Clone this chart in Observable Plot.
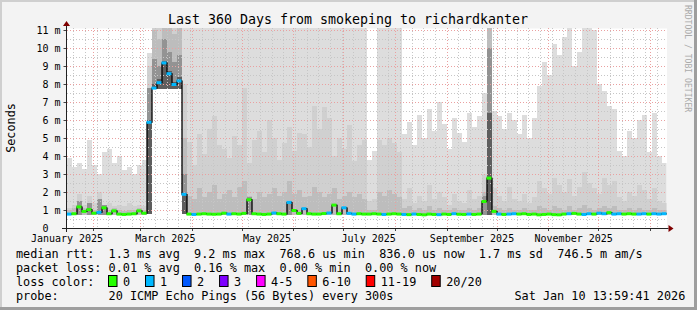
<!DOCTYPE html>
<html><head><meta charset="utf-8">
<script src="https://cdn.jsdelivr.net/npm/d3@7"></script>
<script src="https://cdn.jsdelivr.net/npm/@observablehq/plot@0.6"></script>
<style>
html,body{margin:0;padding:0;background:#f3f3f3;}
svg{display:block;}
</style></head><body><div id="chart"></div>
<script>
// ---- data (values in milliseconds), one sample every 3 days from 2025-01-16 ----
const rangeStart = "2025-01-16", rangeDays = 360, stepDays = 3;
const minMs = [
0.72,0.72,0.72,0.72,0.72,0.72,0.72,0.72,0.72,0.72,
0.72,0.72,0.72,0.72,0.72,0.72,0.78,7.70,7.72,7.70,
7.72,7.70,7.74,0.78,0.72,0.72,0.72,0.72,0.72,0.72,
0.72,0.72,0.72,0.72,0.72,0.72,0.72,0.72,0.72,0.72,
0.72,0.72,0.72,0.72,0.72,0.72,0.72,0.72,0.72,0.72,
0.72,0.72,0.72,0.72,0.72,0.72,0.72,0.72,0.72,0.72,
0.72,0.72,0.72,0.72,0.72,0.72,0.72,0.72,0.72,0.72,
0.72,0.72,0.72,0.72,0.72,0.72,0.72,0.72,0.72,0.72,
0.72,0.72,0.72,0.72,0.72,0.72,0.72,0.72,0.72,0.72,
0.72,0.72,0.72,0.72,0.72,0.72,0.72,0.72,0.72,0.72,
0.72,0.72,0.72,0.72,0.72,0.72,0.72,0.72,0.72,0.72,
0.72,0.72,0.72,0.72,0.72,0.72,0.72,0.72,0.72,0.72];
const maxMs = [
3.9,3.4,3.6,3.3,4.9,3.5,3.0,4.2,4.4,3.6,
4.0,3.2,3.4,3.0,3.5,3.8,9.7,12,12,12,
12,12,12,12,12,12,12,12,12,12,
12,12,12,12,12,12,12,12,12,12,
12,12,12,12,12,12,12,12,12,12,
12,12,12,12,12,12,12,12,12,12,
3.8,4.3,12,12,12,12,12,5.2,5.9,4.6,
6.3,5.0,6.6,5.4,7.0,5.8,4.4,6.1,5.3,4.8,
6.4,5.6,6.2,7.5,12,6.5,6.2,5.5,6.4,6.0,
5.2,6.3,5.0,6.1,7.9,9.2,8.5,10.2,9.6,10.6,
12,9.0,9.8,12,12,11.0,8.0,7.6,6.8,6.6,
4.3,4.0,5.4,5.0,6.0,6.3,4.2,6.4,4.0,3.6];
const midMs = [
1.1,1.3,1.9,1.3,1.8,1.4,2.0,1.3,1.4,1.2,
1.3,1.2,1.4,1.2,1.3,1.2,9.0,12,12,12,
12,12,12,8.0,4.8,3.5,5.2,4.1,5.5,6.2,
4.6,4.4,3.9,5.1,4.6,7.8,3.6,4.9,5.4,4.2,
6.0,5.0,3.8,4.7,5.6,4.3,5.3,5.2,4.5,6.8,
5.5,6.7,6.1,4.0,5.0,4.4,5.7,3.7,4.6,4.9,
1.5,1.6,4.9,4.6,5.0,4.7,4.2,1.6,2.2,1.4,
1.8,1.5,2.4,1.6,2.0,1.7,1.3,1.9,1.5,1.4,
2.1,1.6,1.8,3.0,12,2.2,1.8,1.5,2.3,1.6,
1.5,1.9,1.4,1.7,2.6,2.2,1.9,2.8,2.4,2.0,
2.7,1.8,2.3,3.1,2.5,2.2,1.9,2.8,2.4,2.6,
1.7,1.5,2.0,1.8,2.4,2.1,1.6,2.2,1.5,1.4];
const darkMs = [
1.0,1.1,1.4,1.1,1.3,1.0,1.3,1.2,1.0,1.1,
1.0,0.95,1.0,1.0,1.1,1.0,7.8,11.0,10.5,12,
11.5,10.8,11.2,5.0,1.8,1.6,2.2,1.7,2.0,2.4,
1.6,1.9,2.1,1.7,2.3,2.6,1.8,1.6,2.0,1.7,
1.9,2.2,1.8,2.0,2.6,1.9,2.1,1.7,1.8,2.3,
2.0,1.7,1.9,2.2,1.6,1.8,2.0,1.7,1.9,1.6,
1.0,1.0,2.0,1.8,2.1,1.9,1.7,1.1,1.2,1.0,
1.1,1.0,1.2,1.0,1.1,1.0,1.0,1.1,1.0,1.0,
1.1,1.0,1.1,2.0,12,1.2,1.1,1.0,1.1,1.0,
1.0,1.1,1.0,1.0,1.2,1.1,1.0,1.2,1.1,1.0,
1.2,1.0,1.1,1.3,1.1,1.0,1.1,1.2,1.1,1.2,
1.0,1.0,1.1,1.0,1.1,1.0,1.0,1.1,1.0,1.0];
const deepMs = [
null,null,1.5,null,1.4,null,1.6,1.3,null,null,
null,null,null,null,null,null,7.8,9.4,9.0,10.5,
9.8,9.2,9.6,3.0,null,null,null,null,null,null,
null,null,null,null,null,null,1.7,null,null,null,
null,null,null,null,1.5,null,null,null,null,null,
null,null,null,null,null,null,null,null,null,null,
null,null,null,null,null,null,null,null,null,null,
null,null,null,null,null,null,null,null,null,null,
null,null,null,1.8,10.0,null,null,null,null,null,
null,null,null,null,null,null,null,null,null,null,
null,null,null,null,null,null,null,null,null,null,
null,null,null,null,null,null,null,null,null,null];
const coreMs = [
null,null,null,null,null,null,null,null,null,null,
null,null,null,null,null,null,6.0,8.0,8.3,9.3,
8.7,8.1,8.4,1.9,null,null,null,null,null,null,
null,null,null,null,null,null,null,null,null,null,
null,null,null,null,null,null,null,null,null,null,
null,null,null,null,null,null,null,null,null,null,
null,null,null,null,null,null,null,null,null,null,
null,null,null,null,null,null,null,null,null,null,
null,null,null,null,6.4,null,null,null,null,null,
null,null,null,null,null,null,null,null,null,null,
null,null,null,null,null,null,null,null,null,null,
null,null,null,null,null,null,null,null,null,null];
const medianMs = [
0.80,0.82,1.20,0.95,1.05,0.85,0.90,1.15,0.82,0.98,
0.80,0.78,0.80,0.82,0.98,0.85,5.9,7.8,8.1,9.2,
8.6,8.0,8.2,1.9,0.80,0.78,0.80,0.82,0.80,0.79,
0.80,0.85,0.80,0.82,0.80,0.84,1.6,0.82,0.80,0.78,
0.80,0.86,0.82,0.80,1.45,1.0,0.84,1.1,0.82,0.80,
0.80,0.83,0.86,1.3,0.82,1.15,0.84,0.80,0.82,0.80,
0.80,0.82,0.80,0.78,0.80,0.82,0.80,0.78,0.77,0.80,
0.78,0.76,0.80,0.78,0.77,0.80,0.78,0.82,0.79,0.78,
0.80,0.78,0.80,1.5,2.8,0.95,0.80,0.78,0.80,0.82,
0.80,0.82,0.78,0.80,0.76,0.78,0.80,0.77,0.76,0.80,
0.82,0.84,0.80,0.78,0.82,0.80,0.85,0.82,0.88,0.80,
0.82,0.80,0.82,0.80,0.80,0.82,0.80,0.82,0.80,0.82];
const lossIdx = [
1,0,0,0,0,0,1,0,0,0,
0,0,0,0,0,0,1,1,1,1,
1,1,1,1,0,1,0,0,0,0,
0,0,1,0,0,0,0,0,0,0,
0,1,0,0,1,0,0,1,0,0,
0,0,1,0,0,1,1,1,0,0,
0,0,0,1,0,0,0,1,0,1,
0,0,0,0,1,0,0,1,0,0,
1,0,0,0,0,0,1,0,1,1,
0,0,0,0,0,0,0,0,0,0,
1,0,0,1,1,0,1,1,0,1,
1,0,0,0,1,1,0,1,1,1];
const lossColors = ["#26ff00","#00b8ff","#0059ff","#7e00ff","#ff00ff","#ff5500","#ff0000","#a10000"];
const lossLabels = ["0","1","2","3","4-5","6-10","11-19","20/20"];
const monthLabelDates = ["2025-01-16","2025-03-16","2025-05-16","2025-07-16","2025-09-16","2025-11-16"];
const yTicks = [0,1,2,3,4,5,6,7,8,9,10,11];
const titleText = "Last 360 Days from smokeping to richardkanter";
const legendLines = [
  "median rtt:  1.3 ms avg  9.2 ms max  768.6 us min  836.0 us now  1.7 ms sd  746.5 m am/s",
  "packet loss: 0.01 % avg  0.16 % max  0.00 % min  0.00 % now",
  "loss color:",
  "probe:       20 ICMP Echo Pings (56 Bytes) every 300s"
];
const stampText = "Sat Jan 10 13:59:41 2026";

// ---- build ----
const start = new Date(rangeStart + "T00:00:00Z");
const end = d3.utcDay.offset(start, rangeDays);
const rows = medianMs.map((m, i) => ({
  t0: d3.utcDay.offset(start, i * stepDays),
  t1: d3.utcDay.offset(start, (i + 1) * stepDays),
  lo: minMs[i], max: maxMs[i], mid: midMs[i], dark: darkMs[i],
  deep: deepMs[i], core: coreMs[i], median: m, color: lossColors[lossIdx[i]]
}));
const stepPts = rows.map(r => ({t: r.t0, v: r.median})).concat([{t: end, v: medianMs[medianMs.length - 1]}]);
const levels = [["max", "#dddddd"], ["mid", "#d0d0d0"], ["dark", "#bdbdbd"], ["deep", "#939393"], ["core", "#5e5e5e"]];
const weekLines = d3.utcMonday.range(start, end);
const monthLines = d3.utcMonth.range(d3.utcDay.offset(start, 1), end);
const halfLines = d3.range(0.5, 11, 1);
const mLines = d3.range(1, 12, 1);
const FONT = "'DejaVu Sans Mono', monospace";
const gridGray = "#c6c6c6", gridRed = "#eaa0a0";

const chart = Plot.plot({
  width: 697, height: 310,
  marginLeft: 66.5, marginRight: 30.5, marginTop: 28, marginBottom: 82,
  style: {background: "transparent", fontFamily: FONT, fontSize: "10px", color: "#000", overflow: "visible"},
  x: {type: "utc", domain: [start, end]},
  y: {domain: [0, 200 / 18]},
  color: {type: "identity"},
  marks: [
    Plot.frame({fill: "#ffffff", stroke: null}),
    ...levels.map(([key, c]) => Plot.rect(rows, {x1: "t0", x2: "t1", y1: "lo", y2: key, fill: c, clip: true, shapeRendering: "crispEdges"})),
    Plot.ruleX(weekLines, {stroke: gridGray, strokeDasharray: "1,2", shapeRendering: "crispEdges"}),
    Plot.ruleY(halfLines, {stroke: gridGray, strokeDasharray: "1,2", shapeRendering: "crispEdges"}),
    Plot.ruleX(monthLines, {stroke: gridRed, strokeDasharray: "1,2", shapeRendering: "crispEdges"}),
    Plot.ruleY(mLines, {stroke: gridRed, strokeDasharray: "1,2", shapeRendering: "crispEdges"}),
    Plot.line(stepPts, {x: "t", y: "v", curve: "step-after", stroke: "#000", strokeWidth: 1.3, clip: true}),
    Plot.ruleY(rows, {x1: "t0", x2: "t1", y: "median", stroke: "color", strokeWidth: 3}),
    Plot.ruleX(monthLines, {y1: 0, y2: -3 / 18, stroke: "#444", shapeRendering: "crispEdges"}),
    Plot.axisY(yTicks, {tickSize: 3, tickPadding: 3.5, stroke: "#444", fontSize: 10, fontFamily: FONT,
      tickFormat: d => d === 0 ? "0\u00a0\u00a0" : d + " m"}),
    Plot.axisX(monthLabelDates.map(s => new Date(s + "T00:00:00Z")), {tickSize: 0, tickPadding: 6.5, fontSize: 10, fontFamily: FONT,
      tickFormat: d3.utcFormat("%B %Y")})
  ]
});
document.getElementById("chart").appendChild(chart);

// ---- decorations ----
const svg = d3.select(chart);
const X = chart.scale("x"), Y = chart.scale("y");
const bg = svg.insert("g", ":first-child");
bg.append("rect").attr("x", 0).attr("y", 0).attr("width", 697).attr("height", 310).attr("fill", "#f3f3f3");
bg.append("rect").attr("x", 0).attr("y", 0).attr("width", 697).attr("height", 2).attr("fill", "#cfcfcf");
bg.append("rect").attr("x", 0).attr("y", 0).attr("width", 2).attr("height", 310).attr("fill", "#cfcfcf");
bg.append("rect").attr("x", 0).attr("y", 307).attr("width", 697).attr("height", 3).attr("fill", "#9e9e9e");
bg.append("rect").attr("x", 694).attr("y", 0).attr("width", 3).attr("height", 310).attr("fill", "#9e9e9e");

const ax = svg.append("g");
const x0 = X.apply(start), y0 = Y.apply(0);
ax.append("line").attr("x1", x0 - 4.5).attr("x2", X.apply(end) + 2).attr("y1", y0 + 0.5).attr("y2", y0 + 0.5).attr("stroke", "#222");
ax.append("line").attr("x1", x0).attr("x2", x0).attr("y1", y0 + 4).attr("y2", 26).attr("stroke", "#222");
const xe = X.apply(end) + 2;
ax.append("path").attr("d", `M${xe},${y0 - 3}L${xe + 5},${y0 + 0.5}L${xe},${y0 + 4}Z`).attr("fill", "#7f0000");
ax.append("path").attr("d", `M${x0 - 3.5},26L${x0},21L${x0 + 3.5},26Z`).attr("fill", "#7f0000");

const tx = svg.append("g").attr("font-family", FONT).attr("fill", "#000").attr("text-anchor", "start");
tx.append("text").attr("x", 348).attr("y", 24).attr("text-anchor", "middle").attr("font-size", 13.3).text(titleText);
tx.append("text").attr("transform", "translate(15,128) rotate(-90)").attr("text-anchor", "middle").attr("font-size", 11.8).text("Seconds");
tx.append("text").attr("transform", "translate(684.5,5) rotate(90)").attr("text-anchor", "start").attr("font-size", 8.1).attr("fill", "#aaaaaa").text("RRDTOOL / TOBI OETIKER");

const LX = 16, CW = 7.12, LFS = 11.83;
const base = [258.3, 272.2, 286.1, 300];
legendLines.forEach((s, i) => {
  tx.append("text").attr("x", LX).attr("y", base[i]).attr("font-size", LFS).attr("text-anchor", "start").style("white-space", "pre").text(s);
});
tx.append("text").attr("x", LX + 70 * CW).attr("y", base[3]).attr("font-size", LFS).attr("text-anchor", "start").text(stampText);
let bx = 108;
lossLabels.forEach((lab, i) => {
  tx.append("rect").attr("x", bx + 0.5).attr("y", 275.5).attr("width", 8.5).attr("height", 11).attr("fill", lossColors[i]).attr("stroke", "#000").attr("stroke-width", 1);
  tx.append("text").attr("x", bx + 15).attr("y", base[2]).attr("font-size", LFS).attr("text-anchor", "start").text(lab);
  bx = bx + 15 + lab.length * CW + 14.9;
});
</script></body></html>
